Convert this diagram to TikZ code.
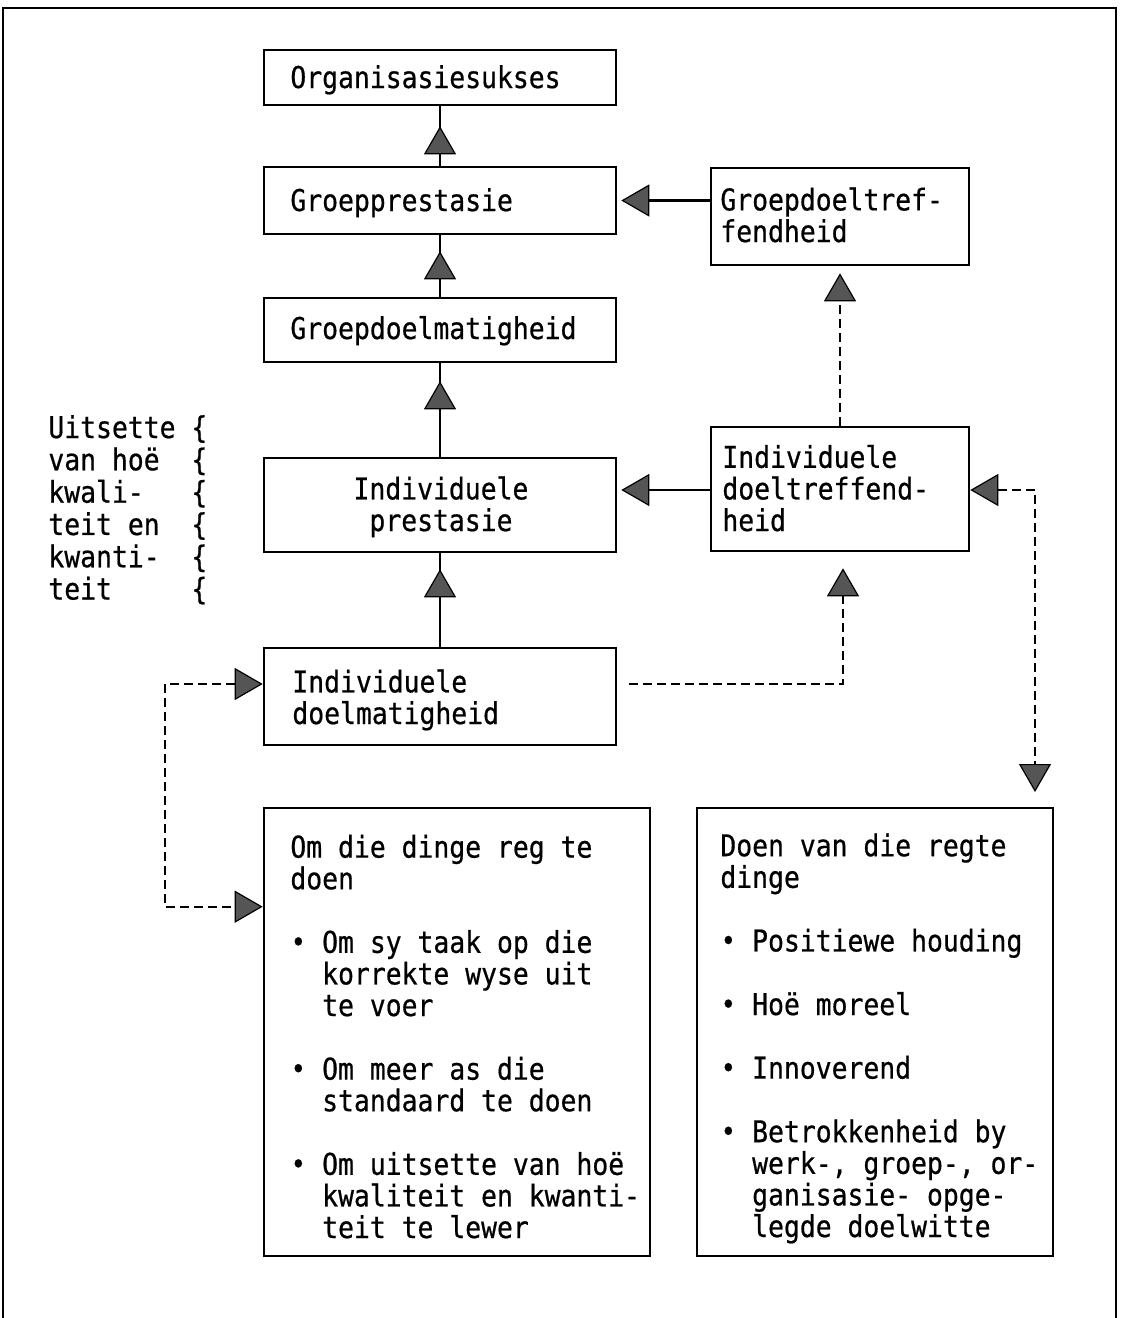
\documentclass[tikz,border=0pt]{standalone}
\usepackage{fontspec}
\newfontfamily\diafont{DejaVu Sans Mono}[FakeStretch=0.88, FakeBold=0.6]
\usetikzlibrary{arrows.meta,decorations.markings,fit,calc}
\definecolor{triGray}{RGB}{85,85,85}
% bullet occupying one character cell
\newcommand\bul{\makebox[\fontcharwd\font`•]{\raisebox{0.05ex}{\scalebox{0.95}{•}}}}

\begin{document}
\begin{tikzpicture}[x=0.5pt,y=-0.5pt,
  box/.style={draw, line width=1.3pt, inner sep=0pt},
  txt/.style={font=\diafont\fontsize{15}{15.8}\selectfont, inner sep=0pt, align=left},
  link/.style={line width=1.1pt},
  dlink/.style={line width=0.9pt, dash pattern=on 4.5pt off 2.5pt},
  midtri/.style={postaction={decorate},
    decoration={markings, mark=at position #1 with {\arrow{gtri}}}},
]
\tikzset{gtri/.tip={Triangle[width=16pt,length=14pt,fill=triGray,line width=0.6pt]}}

\useasboundingbox (0,0) rectangle (1121,1318);

% outer frame, open at the bottom
\draw[line width=1pt] (3,1318) -- (3,8) -- (1116,8) -- (1116,1318);

% boxes
\node[box, fit={(264,50)(616,105)}]   (org) {};
\node[box, fit={(264,167)(616,234)}]  (gp)  {};
\node[box, fit={(264,298)(616,362)}]  (gdm) {};
\node[box, fit={(264,458)(616,552)}]  (ip)  {};
\node[box, fit={(264,648)(616,745)}]  (idm) {};
\node[box, fit={(711,168)(969,265)}]  (gdt) {};
\node[box, fit={(711,427)(969,551)}]  (idt) {};
\node[box, fit={(264,808)(650,1256)}] (bl)  {};
\node[box, fit={(697,808)(1053,1256)}] (br) {};

% box texts (multi-line texts are placed by the baseline of their last line)
\node[txt, anchor=base west] (orgT) at (290,88)  {Organisasiesukses};
\node[txt, anchor=base west] (gpT)  at (290,211) {Groepprestasie};
\node[txt, anchor=base west] (gdmT) at (290,339) {Groepdoelmatigheid};
\node[txt, anchor=base, align=center] (ipT) at (441,531) {Individuele\\prestasie};
\node[txt, anchor=base west] (idmT) at (292,724) {Individuele\\doelmatigheid};
\node[txt, anchor=base west] (gdtT) at (720,242) {Groepdoeltref-\\fendheid};
\node[txt, anchor=base west] (idtT) at (722,531) {Individuele\\doeltreffend-\\heid};

\node[txt, anchor=base west] (blT) at (290,1238) {%
Om die dinge reg te\\doen\\[16pt]
\bul\ Om sy taak op die\\\hphantom{••}korrekte wyse uit\\\hphantom{••}te voer\\[16pt]
\bul\ Om meer as die\\\hphantom{••}standaard te doen\\[16pt]
\bul\ Om uitsette van hoë\\\hphantom{••}kwaliteit en kwanti-\\\hphantom{••}teit te lewer};

\node[txt, anchor=base west] (brT) at (720,1237) {%
Doen van die regte\\dinge\\[16pt]
\bul\ Positiewe houding\\[16pt]
\bul\ Hoë moreel\\[16pt]
\bul\ Innoverend\\[16pt]
\bul\ Betrokkenheid by\\\hphantom{••}werk-, groep-, or-\\\hphantom{••}ganisasie- opge-\\\hphantom{••}legde doelwitte};

% side note
\node[txt, anchor=base west] (note) at (48,438) {%
\begin{tabular}[t]{@{}l@{\ }l@{}}
Uitsette & \{\\
van hoë  & \{\\
kwali-   & \{\\
teit en  & \{\\
kwanti-  & \{\\
teit     & \{
\end{tabular}};

% solid connectors
\draw[link, midtri=-10pt] (gp.north)  -- (org.south);
\draw[link, midtri=-8pt]  (gdm.north) -- (gp.south);
\draw[link, midtri=-9pt]  (ip.north)  -- (gdm.south);
\draw[link, midtri=-8pt]  (idm.north) -- (ip.south);
\draw[link, -{gtri}, shorten >=2pt] (gp.east -| gdt.west) -- (gp.east);
\draw[link, -{gtri}, shorten >=2pt] (idt.west |- 0,490) -- (ip.east |- 0,490);

% dashed connectors
\draw[dlink, -{gtri}, shorten >=3.5pt] (idt.north) -- (gdt.south);
\coordinate (idmR) at ($(idm.east)+(12,-12.5)$);
\draw[dlink, -{gtri}, shorten >=8pt] (idmR) -| ([xshift=1.5pt]idt.south);
\coordinate (brTip) at (1035,792);
\draw[dlink, {gtri}-{gtri}] (idt.east |- 0,490) -| (brTip);
\coordinate (idmL) at ($(idm.west)+(0,-12.5)$);
\coordinate (blL)  at ($(bl.north west)+(0,100)$);
\coordinate (lc)   at (165,796);
\draw[dlink, {gtri}-{gtri}] (idmL) -- (idmL -| lc) -- (blL -| lc) -- (blL);

\end{tikzpicture}
\end{document}
